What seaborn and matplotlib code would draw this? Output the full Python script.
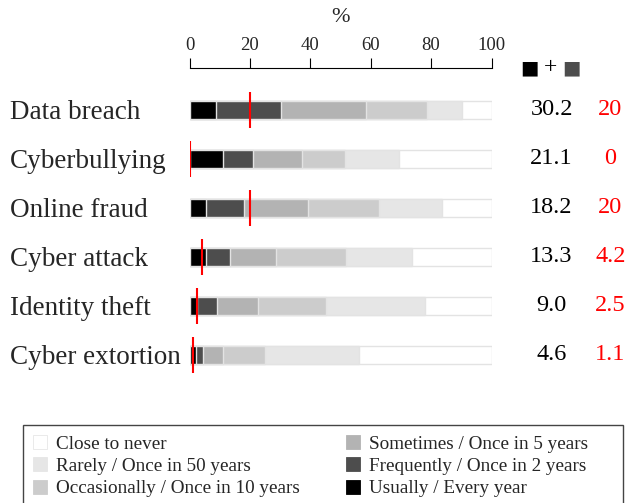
import numpy as np
import pandas as pd
import matplotlib
matplotlib.use('Agg')
import matplotlib.pyplot as plt
from matplotlib.patches import Patch, Rectangle
import seaborn as sns

# Survey: how often each cyber threat is expected (percent of respondents)
threats = ['Data breach', 'Cyberbullying', 'Online fraud', 'Cyber attack',
           'Identity theft', 'Cyber extortion']
usually = [8.8, 11.1, 5.6, 5.3, 2.5, 2.2]
frequently = [21.4, 10.0, 12.6, 8.0, 6.5, 2.4]
sometimes = [28.3, 16.2, 21.0, 15.2, 13.7, 6.4]
occasionally = [20.2, 14.2, 23.7, 23.4, 22.6, 14.0]
rarely = [11.5, 17.9, 20.6, 21.8, 32.7, 31.1]
never = [9.8, 30.6, 16.5, 26.3, 22.0, 43.9]
top_two = ['30.2', '21.1', '18.2', '13.3', '9.0', '4.6']
reference = [20, 0, 20, 4.2, 2.5, 1.1]
reference_labels = ['20', '0', '20', '4.2', '2.5', '1.1']

level_names = ['Usually / Every year', 'Frequently / Once in 2 years',
               'Sometimes / Once in 5 years', 'Occasionally / Once in 10 years',
               'Rarely / Once in 50 years', 'Close to never']
level_colors = ['#000000', '#4d4d4d', '#b3b3b3', '#cccccc', '#e6e6e6', '#ffffff']

sns.set_theme(style='white')
plt.rcParams['font.family'] = ['Liberation Serif', 'DejaVu Sans']

df = pd.DataFrame({'threat': threats, 'usually': usually, 'frequently': frequently,
                   'sometimes': sometimes, 'occasionally': occasionally,
                   'rarely': rarely, 'never': never})
parts = ['usually', 'frequently', 'sometimes', 'occasionally', 'rarely', 'never']
cum = df[parts].cumsum(axis=1)

fig = plt.figure(figsize=(6.28, 5.03), dpi=100)
ax = fig.add_axes([189.5 / 628, 1 - 379.5 / 503, 302 / 628, 311.5 / 503])

# stacked bars: draw the cumulative totals from the longest to the shortest
for col, color in reversed(list(zip(parts, level_colors))):
    sns.barplot(x=cum[col], y=df['threat'], orient='h', color=color,
                width=0.37, edgecolor='#e3e3e3', linewidth=1.0,
                saturation=1, errorbar=None, ax=ax)

ypos = np.arange(len(threats))
ax.vlines(reference, ypos - 0.37, ypos + 0.37, color='red', lw=1.5, zorder=5)

ax.set_xlim(0, 100)
ax.set_ylim(5.5, -0.857)
ax.xaxis.tick_top()
ax.xaxis.set_label_position('top')
ax.set_xticks([0, 20, 40, 60, 80, 100])
ax.tick_params(axis='x', direction='out', length=7, width=0.8, color='black',
               labelsize=13.5, pad=3, top=True, bottom=False)
ax.set_xlabel('%', fontsize=16, labelpad=11)
ax.set_ylabel('')
for side in ['left', 'right', 'bottom']:
    ax.spines[side].set_visible(False)
ax.spines['top'].set_color('black')
ax.spines['top'].set_linewidth(0.8)

ax.tick_params(axis='y', length=0, labelsize=19.5, pad=129.6)
for lbl in ax.get_yticklabels():
    lbl.set_horizontalalignment('left')

trans = ax.get_yaxis_transform()
for i in range(len(threats)):
    ax.text(1.199, i, top_two[i], transform=trans, ha='center', va='center',
            fontsize=17.5, color='black')
    ax.text(1.394, i, reference_labels[i], transform=trans, ha='center',
            va='center', fontsize=17.5, color='red')

ax.text(1.126, 1.0, '\u25a0', transform=ax.transAxes, ha='center', va='center',
        fontsize=14, color='black', family=['DejaVu Sans'])
ax.text(1.195, 1.0, '+', transform=ax.transAxes, ha='center', va='center',
        fontsize=17, color='black')
ax.text(1.265, 1.0, '\u25a0', transform=ax.transAxes, ha='center', va='center',
        fontsize=14, color='#4d4d4d', family=['DejaVu Sans'])

order = [5, 4, 3, 2, 1, 0]
handles = [Patch(facecolor=level_colors[k],
                 edgecolor='#e6e6e6' if k == 5 else level_colors[k], linewidth=0.6)
           for k in order]
labels = [level_names[k] for k in order]
leg = fig.legend(handles, labels, ncol=2, loc='upper left',
                 bbox_to_anchor=(33 / 628, 1 - 435 / 503),
                 fontsize=13.8, frameon=False,
                 handlelength=0.75, handleheight=0.75, handletextpad=0.45,
                 labelspacing=0.24, borderpad=0, borderaxespad=0,
                 columnspacing=2.4)
fig.patches.append(Rectangle((23 / 628, -0.05), 600 / 628, 0.05 + 1 - 425 / 503,
                             transform=fig.transFigure, fill=False,
                             edgecolor='#444444', linewidth=1.0))

fig.savefig('out.png', dpi=100)
